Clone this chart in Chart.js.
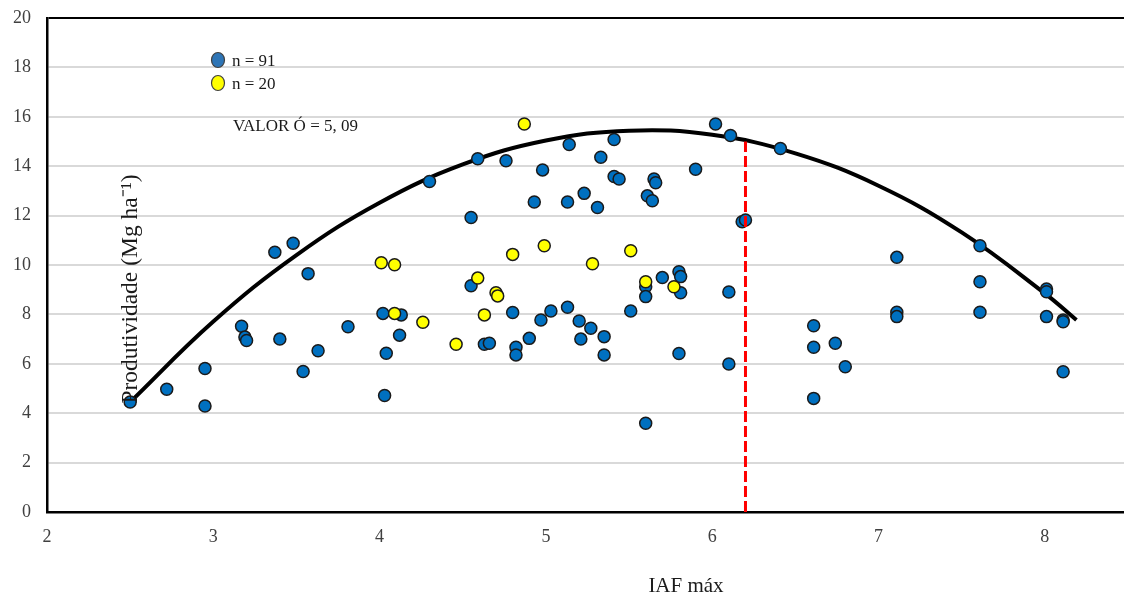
<!DOCTYPE html>
<html lang="pt">
<head>
<meta charset="UTF-8">
<title>IAF máx x Produtividade</title>
<script src="https://cdn.jsdelivr.net/npm/chart.js"></script>
<style>
  body { margin: 0; background: #fff; overflow: hidden; }
  .chart-container { position: relative; width: 1124px; height: 599px; }
</style>
</head>
<body>
<div class="chart-container">
  <canvas id="iafChart"></canvas>
</div>
<script>
// pontos azuis (n = 91)
const azulX = [2.50, 2.72, 2.95, 2.95, 3.17, 3.19, 3.20, 3.37, 3.48, 3.40, 3.54, 3.57, 3.63, 3.81,
  4.02, 4.13, 4.12, 4.04, 4.03, 4.30, 4.55, 4.55, 4.59, 4.76, 4.80, 4.63, 4.66, 4.82, 4.82, 4.90,
  4.93, 4.98, 4.97, 5.03, 5.13, 5.14, 5.13, 5.23, 5.20, 5.21, 5.27, 5.31, 5.33, 5.35, 5.35, 5.41,
  5.41, 5.44, 5.51, 5.60, 5.60, 5.60, 5.61, 5.64, 5.65, 5.66, 5.70, 5.80, 5.81, 5.81, 5.80, 5.90,
  6.02, 6.11, 6.10, 6.10, 6.18, 6.20, 6.41, 6.61, 6.61, 6.61, 6.74, 6.80, 7.11, 7.11, 7.11, 7.61,
  7.61, 7.61, 8.01, 8.01, 8.01, 8.11, 8.11, 8.11];
const azulY = [4.45, 4.97, 4.29, 5.81, 7.52, 7.08, 6.94, 10.52, 10.88, 7.00, 5.69, 9.65, 6.53, 7.50,
  8.04, 7.98, 7.16, 6.43, 4.72, 13.38, 11.92, 9.16, 14.30, 14.22, 8.08, 6.79, 6.83, 6.67, 6.36, 7.03,
  12.55, 13.85, 7.77, 8.14, 12.55, 14.88, 8.29, 12.90, 7.73, 7.00, 7.44, 12.33, 14.36, 7.10, 6.36, 15.08,
  13.58, 13.48, 8.14, 9.12, 8.72, 3.59, 12.80, 12.60, 13.48, 13.33, 9.49, 9.73, 9.53, 8.88, 6.42, 13.88,
  15.71, 15.24, 8.91, 5.99, 11.75, 11.82, 14.72, 7.54, 6.67, 4.60, 6.83, 5.88, 10.31, 8.09, 7.91, 10.78,
  9.32, 8.09, 9.03, 8.92, 7.91, 7.77, 7.70, 5.68];

// pontos amarelos (n = 20)
const amareloX = [4.01, 4.09, 4.09, 4.26, 4.46, 4.59, 4.63, 4.70, 4.71, 4.80, 4.87, 4.99, 5.28, 5.51, 5.60, 5.77];
const amareloY = [10.09, 10.01, 8.04, 7.68, 6.79, 9.47, 7.98, 8.88, 8.75, 10.43, 15.71, 10.78, 10.05, 10.58, 9.32, 9.12];

// curva ajustada
const curvaX = [2.5, 3.0, 3.5, 4.0, 4.5, 5.0, 5.5, 6.0, 6.5, 7.0, 7.5, 8.0, 8.19];
const curvaY = [4.45, 7.71, 10.40, 12.52, 14.07, 15.04, 15.44, 15.27, 14.52, 13.21, 11.32, 8.85, 7.77];

// linha vermelha tracejada
const linhaX = [6.2, 6.2];
const linhaY = [0, 15.0];

const xTicks = [2, 3, 4, 5, 6, 7, 8];
const yTicks = [0, 2, 4, 6, 8, 10, 12, 14, 16, 18, 20];

const legendas = ['n = 91', 'n = 20'];
const valorTexto = 'VALOR Ó = 5, 09';
const tituloY = 'Produtividade (Mg ha⁻¹)';
const tituloX = 'IAF máx';

function pares(xs, ys) {
  return xs.map((x, i) => ({ x: x, y: ys[i] }));
}

const serif = '"Liberation Serif", "Times New Roman", serif';

// a area do grafico vai ate a borda direita do canvas
const ajuste = {
  id: 'ajuste',
  afterLayout(chart) {
    const a = chart.chartArea;
    const x = chart.scales.x;
    a.right = chart.width;
    a.width = a.right - a.left;
    x.right = a.right;
    x.width = x.right - x.left;
    x.configure();
  }
};

// textos dentro da area do grafico
const textos = {
  id: 'textos',
  afterDraw(chart) {
    const c = chart.ctx;
    const a = chart.chartArea;
    c.save();

    // legenda
    const cores = ['#2e75b6', '#ffff00'];
    legendas.forEach((t, i) => {
      const cy = a.top + 42 + i * 23;
      c.beginPath();
      c.ellipse(a.left + 171, cy, 6.5, 7.5, 0, 0, Math.PI * 2);
      c.fillStyle = cores[i];
      c.fill();
      c.lineWidth = 1.2;
      c.strokeStyle = '#404040';
      c.stroke();
      c.fillStyle = '#1a1a1a';
      c.font = '17px ' + serif;
      c.textBaseline = 'middle';
      c.textAlign = 'left';
      c.fillText(t, a.left + 185, cy + 2);
    });

    c.font = '17px ' + serif;
    c.fillStyle = '#1a1a1a';
    c.fillText(valorTexto, a.left + 186, a.top + 109);

    // titulo do eixo y, desenhado dentro da area
    c.translate(a.left + 84, a.top + 271);
    c.rotate(-Math.PI / 2);
    c.textAlign = 'center';
    c.textBaseline = 'middle';
    c.font = '23.5px ' + serif;
    c.fillStyle = '#1a1a1a';
    c.fillText(tituloY, 0, 0);
    c.restore();

    // titulo do eixo x
    c.save();
    c.font = '21px ' + serif;
    c.fillStyle = '#1a1a1a';
    c.textAlign = 'center';
    c.textBaseline = 'middle';
    c.fillText(tituloX, a.left + 639, a.bottom + 74);
    c.restore();
  }
};

const ctx = document.getElementById('iafChart').getContext('2d');

const config = {
  type: 'scatter',
  data: {
    datasets: [
      {
        label: 'linha',
        type: 'line',
        data: pares(linhaX, linhaY),
        borderColor: '#ff0000',
        borderWidth: 3,
        borderDash: [11, 4],
        pointRadius: 0,
        fill: false,
        order: 0
      },
      {
        label: legendas[1],
        data: pares(amareloX, amareloY),
        backgroundColor: '#ffff00',
        borderColor: '#1a1a1a',
        borderWidth: 1.5,
        pointRadius: 6,
        order: 1
      },
      {
        label: legendas[0],
        data: pares(azulX, azulY),
        backgroundColor: '#0070c0',
        borderColor: '#1a1a1a',
        borderWidth: 1.5,
        pointRadius: 6,
        order: 2
      },
      {
        label: 'curva',
        type: 'line',
        data: pares(curvaX, curvaY),
        borderColor: '#000000',
        borderWidth: 4,
        pointRadius: 0,
        tension: 0.4,
        fill: false,
        order: 3
      }
    ]
  },
  options: {
    responsive: true,
    maintainAspectRatio: false,
    animation: false,
    layout: { padding: { top: 18, right: 0, left: 0, bottom: 0 } },
    plugins: {
      legend: { display: false },
      tooltip: { enabled: false }
    },
    scales: {
      x: {
        type: 'linear',
        min: 2,
        max: 8.476,
        afterFit: (s) => {
          s.height = 87;
          s.paddingLeft = 0;
          s.paddingRight = 0;
        },
        afterBuildTicks: (s) => { s.ticks = xTicks.map(v => ({ value: v })); },
        grid: { display: false, drawTicks: false },
        border: { display: true, color: '#000', width: 2.5 },
        ticks: {
          padding: 14,
          color: '#404040',
          font: { family: serif, size: 18 }
        }
      },
      y: {
        min: 0,
        max: 20,
        afterFit: (s) => {
          s.width = 47;
          s.paddingTop = 0;
          s.paddingBottom = 0;
        },
        afterBuildTicks: (s) => { s.ticks = yTicks.map(v => ({ value: v })); },
        grid: {
          drawTicks: false,
          lineWidth: 2,
          color: (c) => (c.tick && c.tick.value === 20 ? '#000' : '#d9d9d9')
        },
        border: { display: true, color: '#000', width: 2.5 },
        ticks: {
          padding: 16,
          color: '#404040',
          font: { family: serif, size: 18 }
        }
      }
    }
  },
  plugins: [ajuste, textos]
};

const iafChart = new Chart(ctx, config);
</script>
</body>
</html>
